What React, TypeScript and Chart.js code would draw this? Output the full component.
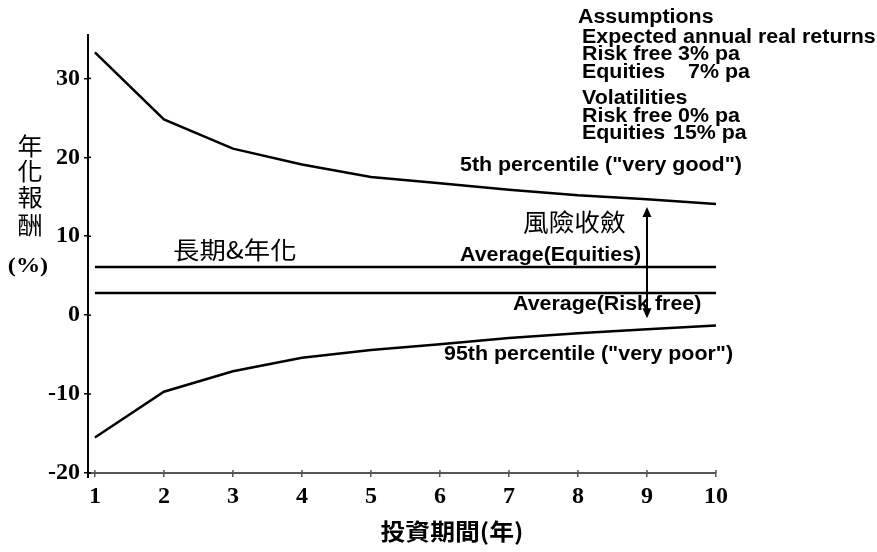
import React, { useEffect, useRef } from 'react';
import { Chart, registerables } from 'chart.js';

Chart.register(...registerables);

// ---- data ----
const years = [1, 2, 3, 4, 5, 6, 7, 8, 9, 10];
const p5VeryGood = [33.3, 24.8, 21.1, 19.1, 17.5, 16.7, 15.9, 15.2, 14.7, 14.1];
const p95VeryPoor = [-15.5, -9.7, -7.1, -5.4, -4.4, -3.7, -2.9, -2.3, -1.8, -1.3];
const avgEquities = [6.1, 6.1, 6.1, 6.1, 6.1, 6.1, 6.1, 6.1, 6.1, 6.1];
const avgRiskFree = [2.8, 2.8, 2.8, 2.8, 2.8, 2.8, 2.8, 2.8, 2.8, 2.8];
const yTickValues = [-20, -10, 0, 10, 20, 30];
const arrowYear = 9;
const arrowTop = 13.7;
const arrowBottom = -0.4;

const assumptionLines = [
  'Assumptions',
  'Expected annual real returns',
  'Risk free',
  'Equities',
  'Volatilities',
  'Risk free',
  'Equities',
];
const assumptionValues = ['', '', '3% pa', '7% pa', '', '0% pa', '15% pa'];

const SANS = '"Liberation Sans", Arial, sans-serif';
const SERIF = '"Liberation Serif", "Times New Roman", serif';
const CJK = '"Noto Sans CJK TC", "Noto Sans CJK SC", sans-serif';
const SX = 1.07;

function drawText(
  ctx: CanvasRenderingContext2D,
  text: string,
  x: number,
  y: number,
  font: string,
  align: CanvasTextAlign = 'left',
  sx: number = SX
) {
  ctx.save();
  ctx.font = font;
  ctx.textBaseline = 'middle';
  ctx.textAlign = align;
  ctx.fillStyle = '#000';
  ctx.translate(x, y);
  ctx.scale(sx, 1);
  ctx.fillText(text, 0, 0);
  ctx.restore();
}

const toPts = (ys: number[]) => years.map((x, i) => ({ x, y: ys[i] }));

const annotationPlugin = {
  id: 'annotations',
  afterDraw(chart: any) {
    const ctx: CanvasRenderingContext2D = chart.ctx;
    const xs = chart.scales.x;
    const ys = chart.scales.y;
    const area = chart.chartArea;

    // inner halves of tick marks
    ctx.save();
    ctx.strokeStyle = '#555';
    ctx.lineWidth = 1.5;
    xs.ticks.forEach((t: any) => {
      const px = xs.getPixelForValue(t.value);
      ctx.beginPath();
      ctx.moveTo(px, area.bottom);
      ctx.lineTo(px, area.bottom - 3);
      ctx.stroke();
    });
    ctx.strokeStyle = '#000';
    ys.ticks.forEach((t: any) => {
      const py = ys.getPixelForValue(t.value);
      ctx.beginPath();
      ctx.moveTo(area.left, py);
      ctx.lineTo(area.left + 3, py);
      ctx.stroke();
    });
    // y axis slight extension below x axis
    ctx.lineWidth = 2;
    ctx.beginPath();
    ctx.moveTo(area.left, area.bottom);
    ctx.lineTo(area.left, area.bottom + 5);
    ctx.stroke();
    ctx.restore();

    // double arrow
    const ax = xs.getPixelForValue(arrowYear);
    const ay1 = ys.getPixelForValue(arrowTop);
    const ay2 = ys.getPixelForValue(arrowBottom);
    ctx.save();
    ctx.strokeStyle = '#000';
    ctx.fillStyle = '#000';
    ctx.lineWidth = 2;
    ctx.beginPath();
    ctx.moveTo(ax, ay1 + 6);
    ctx.lineTo(ax, ay2 - 6);
    ctx.stroke();
    ctx.beginPath();
    ctx.moveTo(ax, ay1);
    ctx.lineTo(ax - 4.5, ay1 + 10);
    ctx.lineTo(ax + 4.5, ay1 + 10);
    ctx.closePath();
    ctx.fill();
    ctx.beginPath();
    ctx.moveTo(ax, ay2);
    ctx.lineTo(ax - 4.5, ay2 - 10);
    ctx.lineTo(ax + 4.5, ay2 - 10);
    ctx.closePath();
    ctx.fill();
    ctx.restore();

    const lbl = `bold 20px ${SANS}`;
    // series labels
    drawText(ctx, '5th percentile ("very good")', 460, 165, lbl);
    drawText(ctx, 'Average(Equities)', 460, 255, lbl);
    drawText(ctx, 'Average(Risk free)', 513, 304, lbl);
    drawText(ctx, '95th percentile ("very poor")', 444, 354, lbl);

    // Chinese annotations
    drawText(ctx, '風險收斂', 523, 222, `24px ${CJK}`);
    drawText(ctx, '長期&年化', 173, 250, `24px ${CJK}`, 'left', 1.1);

    // assumptions block
    const lineY = [17, 37, 54, 72, 98, 116, 133];
    const lineX = [578, 582, 582, 582, 582, 582, 582];
    const valX = [0, 0, 678, 688, 0, 678, 673];
    assumptionLines.forEach((t, i) => {
      drawText(ctx, t, lineX[i], lineY[i], lbl);
      if (assumptionValues[i]) drawText(ctx, assumptionValues[i], valX[i], lineY[i], lbl);
    });

    // y axis title (stacked)
    const yTitleChars = ['年', '化', '報', '酬'];
    const yTitleY = [146, 171, 197, 225];
    yTitleChars.forEach((c, i) => drawText(ctx, c, 30, yTitleY[i], `24px ${CJK}`, 'center', 1.05));
    drawText(ctx, '(%)', 28, 266, `bold 22px ${SERIF}`, 'center', 1.1);

    // x axis title
    drawText(ctx, '投資期間(年)', 452, 531, `bold 23px ${CJK}`, 'center', 1.08);
  },
};

export default function App() {
  const ref = useRef<HTMLCanvasElement | null>(null);

  useEffect(() => {
    if (!ref.current) return;
    const lineDs = (label: string, ys: number[]) => ({
      label,
      data: toPts(ys),
      borderColor: '#000',
      backgroundColor: '#000',
      borderWidth: 2.5,
      pointRadius: 0,
      tension: 0,
      fill: false,
    });
    const chart = new Chart(ref.current, {
      type: 'line',
      data: {
        datasets: [
          lineDs('5th percentile', p5VeryGood),
          lineDs('Average(Equities)', avgEquities),
          lineDs('Average(Risk free)', avgRiskFree),
          lineDs('95th percentile', p95VeryPoor),
        ],
      },
      options: {
        animation: false,
        responsive: true,
        maintainAspectRatio: false,
        layout: { padding: { top: 35, right: 161, left: 0, bottom: 0 } },
        plugins: {
          legend: { display: false },
          tooltip: { enabled: false },
          title: { display: false },
        },
        scales: {
          x: {
            type: 'linear',
            min: 0.9,
            max: 10,
            afterBuildTicks: (s: any) => {
              s.ticks = years.map((v) => ({ value: v }));
            },
            afterFit: (s: any) => {
              s.height = 79;
            },
            ticks: {
              color: '#000',
              padding: 5,
              font: { family: SERIF, size: 24, weight: 'bold' },
              callback: (v: any) => String(v),
            },
            grid: {
              drawOnChartArea: false,
              drawTicks: true,
              tickLength: 4,
              color: '#555',
              lineWidth: 1.5,
            },
            border: { display: true, color: '#555', width: 2 },
          },
          y: {
            type: 'linear',
            min: -20,
            max: 35.5,
            afterBuildTicks: (s: any) => {
              s.ticks = yTickValues.map((v) => ({ value: v }));
            },
            afterFit: (s: any) => {
              s.width = 88;
            },
            ticks: {
              color: '#000',
              padding: 4,
              font: { family: SERIF, size: 24, weight: 'bold' },
              callback: (v: any) => String(v),
            },
            grid: {
              drawOnChartArea: false,
              drawTicks: true,
              tickLength: 4,
              color: '#000',
              lineWidth: 1.5,
            },
            border: { display: true, color: '#000', width: 2 },
          },
        },
      },
      plugins: [annotationPlugin],
    });
    return () => chart.destroy();
  }, []);

  return (
    <div style={{ position: 'fixed', left: 0, top: 0, width: 877, height: 552, background: '#fff' }}>
      <canvas ref={ref} />
    </div>
  );
}
